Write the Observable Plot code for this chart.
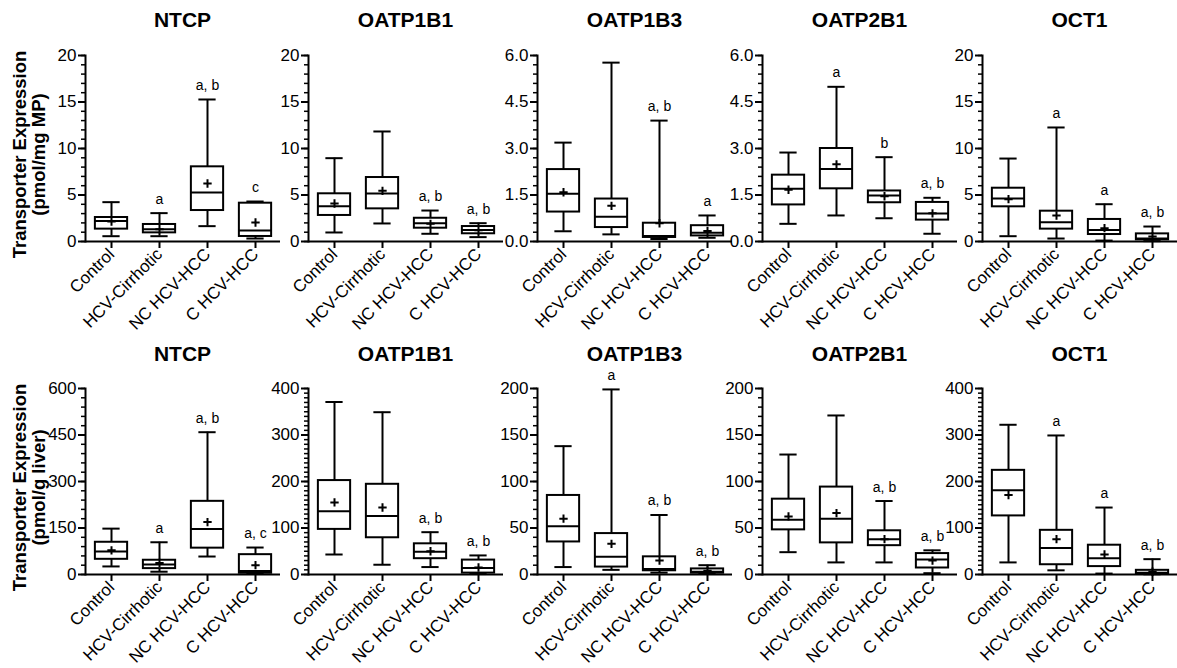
<!DOCTYPE html>
<html><head><meta charset="utf-8">
<script src="https://cdn.jsdelivr.net/npm/d3@7"></script>
<script src="https://cdn.jsdelivr.net/npm/@observablehq/plot@0.6"></script>
<style>
body{margin:0;background:#fff;font-family:"Liberation Sans",Arial,sans-serif;}
#chart{position:relative;width:1177px;height:668px;overflow:hidden;}
.panel{position:absolute;}
.ttl{position:absolute;font-weight:bold;font-size:21px;line-height:24px;text-align:center;width:195px;color:#000;}
</style></head><body><div id="chart"></div>
<script>
const groups = ["Control", "HCV-Cirrhotic", "NC HCV-HCC", "C HCV-HCC"];
const transporters = ["NTCP", "OATP1B1", "OATP1B3", "OATP2B1", "OCT1"];

// Row 1: pmol/mg MP  (one inner array per transporter, values per group)
const mpMin    = [[0.57,0.57,1.65,0.32],[0.97,1.94,0.83,0.47],[0.33,0.23,0.08,0.12],[0.57,0.84,0.75,0.25],[0.57,0.32,0.10,0.04]];
const mpQ1     = [[1.33,0.93,3.33,0.54],[2.80,3.51,1.43,0.83],[0.95,0.45,0.13,0.18],[1.18,1.70,1.25,0.69],[3.73,1.33,0.75,0.18]];
const mpMedian = [[2.20,1.33,5.27,1.18],[3.80,5.16,1.97,1.25],[1.54,0.80,0.18,0.28],[1.70,2.34,1.48,0.90],[4.62,2.08,1.25,0.32]];
const mpQ3     = [[2.58,1.83,8.03,4.12],[5.13,6.88,2.50,1.61],[2.32,1.37,0.59,0.51],[2.14,3.00,1.63,1.26],[5.73,3.26,2.37,0.82]];
const mpMax    = [[4.23,3.05,15.27,4.30],[8.96,11.83,3.33,1.97],[3.19,5.77,3.90,0.84],[2.87,4.99,2.72,1.41],[8.92,12.26,4.01,1.61]];
const mpMean   = [[2.15,1.33,6.24,2.04],[4.09,5.45,1.90,1.20],[1.59,1.15,0.59,0.34],[1.67,2.49,1.46,0.91],[4.55,2.80,1.43,0.54]];
const mpSig    = [["","a","a, b","c"],["","","a, b","a, b"],["","","a, b","a"],["","a","b","a, b"],["","a","a","a, b"]];
const mpTop    = [20, 20, 6, 6, 20];
const mpStep   = [5, 5, 1.5, 1.5, 5];
const mpMinor  = [1, 1, 0.3, 0.3, 1];

// Row 2: pmol/g liver
const lvMin    = [[26,9,58,2],[43,21,16,1],[8,5,2,0.7],[24,13,13,1.4],[26,9,2,0.5]];
const lvQ1     = [[49,19,85,4],[97,79,34,3],[35,8,4,1.4],[48,34,31,7],[126,21,17,1.5]];
const lvMedian = [[74,32,147,11],[136,126,49,14],[52,19,6,3],[59,60,38,16],[181,57,35,4]];
const lvQ3     = [[104,46,236,64],[202,194,66,31],[85,44,19,6],[81,94,47,22.5],[224,95,63,9]];
const lvMax    = [[148,104,459,87],[371,349,91,41],[138,199,64,10],[129,171,79,26],[322,299,144,33]];
const lvMean   = [[78,37,169,30],[155,144,50,15],[60,33,15,4],[62.5,66,38,15],[171,76,43,6]];
const lvSig    = [["","a","a, b","a, c"],["","","a, b","a, b"],["","a","a, b","a, b"],["","","a, b","a, b"],["","a","a","a, b"]];
const lvTop    = [600, 400, 200, 200, 400];
const lvStep   = [150, 100, 50, 50, 100];
const lvMinor  = [30, 10, 10, 10, 10];

const yTitles = ["Transporter Expression\n(pmol/mg MP)", "Transporter Expression\n(pmol/g liver)"];

const axisXs = [85, 308, 537, 762, 982];
const plotW = 195, plotH = 186, mTop = 40, mBottom = 90;
const rowBase = [241, 574];
const titleTop = [8, 342];
const font = '"Liberation Sans", Arial, sans-serif';

const chart = document.getElementById("chart");

const rows = [
  {min: mpMin, q1: mpQ1, med: mpMedian, q3: mpQ3, max: mpMax, mean: mpMean, sig: mpSig, top: mpTop, step: mpStep, minor: mpMinor},
  {min: lvMin, q1: lvQ1, med: lvMedian, q3: lvQ3, max: lvMax, mean: lvMean, sig: lvSig, top: lvTop, step: lvStep, minor: lvMinor}
];

const band = plotW / groups.length;
const boxInset = (band - 33) / 2;
const capInset = (band - 18) / 2;

rows.forEach((R, r) => {
  transporters.forEach((t, k) => {
    const data = groups.map((g, i) => ({
      group: g, min: R.min[k][i], q1: R.q1[k][i], median: R.med[k][i],
      q3: R.q3[k][i], max: R.max[k][i], mean: R.mean[k][i], label: R.sig[k][i]
    }));
    const top = R.top[k];
    const major = d3.range(0, Math.round(top / R.step[k]) + 1).map(i => +(i * R.step[k]).toFixed(3));
    const minor = d3.range(0, Math.round(top / R.minor[k]) + 1).map(i => +(i * R.minor[k]).toFixed(3));
    const fmt = R.step[k] % 1 !== 0 ? d3.format(".1f") : d3.format("d");
    const ml = k === 0 ? 85 : 45;
    const marks = [
      Plot.axisY({ticks: minor, tickSize: 4, strokeWidth: 1.5, tickFormat: () => "", label: null}),
      Plot.axisY({ticks: major, tickSize: 7, tickPadding: 2, strokeWidth: 2, fontSize: 17, tickFormat: fmt, label: null}),
      Plot.axisX({tickSize: 7, tickPadding: 3, tickRotate: -45, strokeWidth: 2, fontSize: 17, label: null}),
      Plot.ruleX(data, {x: "group", y1: "min", y2: "max", strokeWidth: 2}),
      Plot.tickY(data, {x: "group", y: "min", insetLeft: capInset, insetRight: capInset, strokeWidth: 2}),
      Plot.tickY(data, {x: "group", y: "max", insetLeft: capInset, insetRight: capInset, strokeWidth: 2}),
      Plot.barY(data, {x: "group", y1: "q1", y2: "q3", fill: "white", stroke: "black", strokeWidth: 2, insetLeft: boxInset, insetRight: boxInset}),
      Plot.tickY(data, {x: "group", y: "median", insetLeft: boxInset, insetRight: boxInset, strokeWidth: 2}),
      Plot.dot(data, {x: "group", y: "mean", symbol: "plus", r: 2.8, stroke: "black", strokeWidth: 2}),
      Plot.text(data, {x: "group", y: "max", text: "label", dy: -14, fontSize: 14}),
      Plot.ruleY([0], {strokeWidth: 2}),
      Plot.frame({anchor: "left", strokeWidth: 2})
    ];
    if (k === 0) {
      marks.push(Plot.text([yTitles[r]], {text: d => d, frameAnchor: "left", textAnchor: "middle", dx: -56, dy: 6, rotate: -90, fontSize: 18.5, fontWeight: "bold", lineHeight: 1.0}));
    }
    const svg = Plot.plot({
      width: ml + plotW, height: mTop + plotH + mBottom,
      marginLeft: ml, marginRight: 0, marginTop: mTop, marginBottom: mBottom,
      style: {background: "none", overflow: "visible", fontFamily: font, color: "#000", maxWidth: "none"},
      x: {domain: groups, padding: 0, label: null},
      y: {domain: [0, top], label: null},
      marks
    });
    svg.classList.add("panel");
    svg.style.left = (axisXs[k] - ml) + "px";
    svg.style.top = (rowBase[r] - plotH - mTop) + "px";
    chart.appendChild(svg);

    const tl = document.createElement("div");
    tl.className = "ttl";
    tl.textContent = t;
    tl.style.left = axisXs[k] + "px";
    tl.style.top = titleTop[r] + "px";
    chart.appendChild(tl);
  });
});
</script></body></html>
